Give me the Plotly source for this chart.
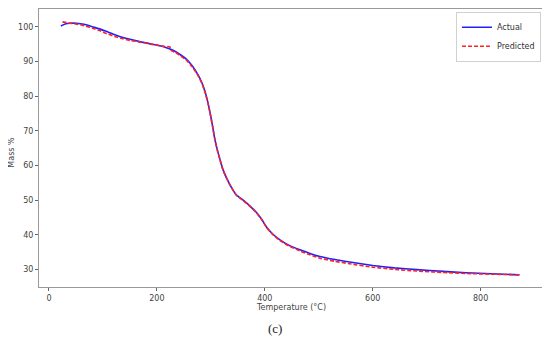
import plotly.graph_objects as go

temp_actual = [22, 30, 40, 51, 65, 80, 95, 107, 122, 137, 152, 168, 184, 199, 215, 230, 243, 255, 265,
               276, 283, 289, 294, 298, 303, 307, 312, 317, 323, 335, 347, 360, 372, 385, 395, 403, 415,
               428, 445, 465, 485, 502, 530, 557, 600, 640, 681, 730, 773, 820, 872]
mass_actual = [100.2, 100.8, 101.0, 101.0, 100.7, 100.0, 99.3, 98.6, 97.7, 96.9, 96.3, 95.7, 95.2, 94.7,
               94.1, 93.2, 92.0, 90.6, 88.8, 86.2, 84.0, 81.4, 78.5, 75.6, 71.5, 67.9, 64.5, 61.7, 58.6,
               54.6, 51.6, 50.0, 48.4, 46.4, 44.3, 42.3, 40.2, 38.6, 37.0, 35.7, 34.6, 33.8, 32.9, 32.2,
               31.2, 30.5, 30.0, 29.5, 29.1, 28.8, 28.5]

temp_pred = [25, 35, 50, 65, 80, 95, 107, 122, 137, 152, 168, 184, 199, 215, 224, 226, 235, 243, 255, 265,
             276, 283, 289, 294, 298, 303, 307, 312, 317, 323, 335, 347, 360, 372, 385, 395, 403, 415,
             428, 445, 465, 485, 502, 530, 557, 600, 640, 681, 730, 773, 820, 872]
mass_pred = [101.4, 101.1, 100.8, 100.3, 99.6, 98.8, 98.0, 97.2, 96.5, 96.0, 95.6, 95.1, 94.7, 94.3,
             94.2, 93.2, 92.5, 91.7, 90.3, 88.5, 86.0, 83.8, 81.2, 78.4, 75.5, 71.4, 67.8, 64.4, 61.6,
             58.5, 54.5, 51.5, 49.9, 48.3, 46.3, 44.2, 42.2, 40.1, 38.4, 36.8, 35.4, 34.2, 33.3, 32.4,
             31.7, 30.7, 30.1, 29.6, 29.2, 28.9, 28.7, 28.5]

x_ticks = [0, 200, 400, 600, 800]
y_ticks = [30, 40, 50, 60, 70, 80, 90, 100]

fig = go.Figure()
fig.add_trace(go.Scatter(x=temp_actual, y=mass_actual, mode="lines", name="Actual",
                         line=dict(color="#2020ff", width=1.6, shape="spline", smoothing=0.5)))
fig.add_trace(go.Scatter(x=temp_pred, y=mass_pred, mode="lines", name="Predicted",
                         line=dict(color="#ff2020", width=1.6, dash="4px,2px", shape="spline", smoothing=0.5)))

axis_common = dict(showgrid=False, zeroline=False, showline=True, linecolor="#999999", linewidth=1,
                   mirror=True, ticks="outside", ticklen=3, tickcolor="#666666", automargin=False,
                   tickfont=dict(family="DejaVu Sans", size=8, color="#444444"))

# The page body has an 8px default margin, so the figure is sized to compensate.
fig.update_layout(
    width=542, height=335,
    margin=dict(l=31, r=7, t=1, b=56),
    paper_bgcolor="white", plot_bgcolor="white",
    xaxis=dict(range=[-18.5, 915.5], tickvals=x_ticks, **axis_common),
    yaxis=dict(range=[25.0, 105.1], tickvals=y_ticks, **axis_common),
    showlegend=True,
    legend=dict(x=0.996, y=0.99, xanchor="right", yanchor="top", bgcolor="white",
                bordercolor="#d0d0d0", borderwidth=1,
                font=dict(family="DejaVu Sans", size=8, color="#333333"),
                tracegroupgap=0, itemwidth=30),
    annotations=[
        dict(text="Temperature (°C)", xref="paper", yref="paper", x=0.5, y=-0.072,
             xanchor="center", yanchor="middle",
             showarrow=False, font=dict(family="DejaVu Sans", size=8, color="#444444")),
        dict(text="Mass %", xref="paper", yref="paper", x=-0.054, y=0.486, textangle=-90,
             xanchor="center", yanchor="middle",
             showarrow=False, font=dict(family="DejaVu Sans", size=8, color="#444444")),
        dict(text="(c)", xref="paper", yref="paper", x=0.468, y=-0.151,
             xanchor="center", yanchor="middle",
             showarrow=False, font=dict(family="Liberation Serif", size=13, color="#222222")),
    ],
)

fig.write_html("out.html")
